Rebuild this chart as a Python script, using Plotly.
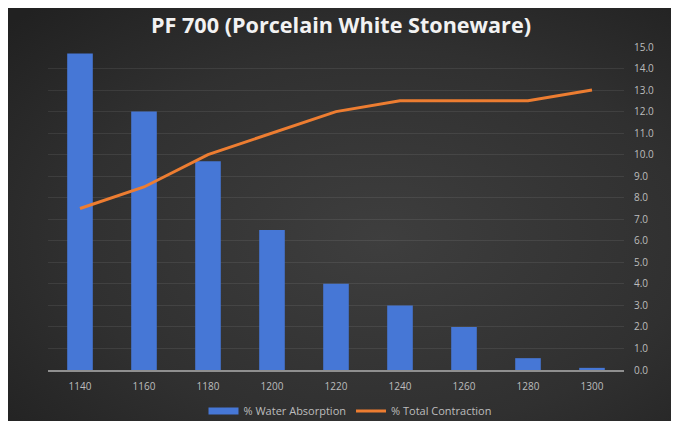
import base64
import plotly.graph_objects as go

temperatures = ["1140", "1160", "1180", "1200", "1220", "1240", "1260", "1280", "1300"]
water_absorption = [14.7, 12.0, 9.7, 6.5, 4.0, 3.0, 2.0, 0.55, 0.1]
total_contraction = [7.5, 8.5, 10.0, 11.0, 12.0, 12.5, 12.5, 12.5, 13.0]
y_ticks = [i for i in range(0, 16)]
y_tick_labels = [f"{v:.1f}" for v in y_ticks]

BLUE = "#4677d6"
ORANGE = "#ED7D31"
TXT = "#bdbdbd"
FONT = "Open Sans, Lato, sans-serif"

W, H = 679, 421
svg = (
    f"<svg xmlns='http://www.w3.org/2000/svg' width='{W}' height='{H}' viewBox='0 0 {W} {H}' preserveAspectRatio='none'>"
    "<defs><radialGradient id='g' cx='0.55' cy='0.55' r='0.75'>"
    "<stop offset='0' stop-color='#3e3e3e'/><stop offset='0.6' stop-color='#303030'/><stop offset='1' stop-color='#212121'/>"
    f"</radialGradient></defs><rect width='{W}' height='{H}' fill='url(#g)'/></svg>"
)
bg_src = "data:image/svg+xml;base64," + base64.b64encode(svg.encode()).decode()

L, R, T, B = 40, 63, 39, 59
pw, ph = W - L - R, H - T - B

fig = go.Figure()
fig.add_trace(go.Bar(
    x=temperatures, y=water_absorption, name="% Water Absorption",
    marker=dict(color=BLUE, line=dict(width=0)), showlegend=False,
))
fig.add_trace(go.Scatter(
    x=temperatures, y=total_contraction, name="% Total Contraction",
    mode="lines", line=dict(color=ORANGE, width=3), showlegend=False,
))
# legend entries
fig.add_trace(go.Scatter(x=[None], y=[None], mode="lines", name="% Water Absorption",
                         line=dict(color=BLUE, width=7)))
fig.add_trace(go.Scatter(x=[None], y=[None], mode="lines", name="% Total Contraction",
                         line=dict(color=ORANGE, width=3)))

fig.update_layout(
    width=W, height=H,
    margin=dict(l=L, r=R, t=T, b=B, pad=0, autoexpand=False),
    paper_bgcolor="#2b2b2b",
    plot_bgcolor="rgba(0,0,0,0)",
    bargap=0.6,
    font=dict(family=FONT, color=TXT, size=10),
    title=dict(
        text="<b>PF 700 (Porcelain White Stoneware)</b>",
        x=333 / W, xref="container", xanchor="center",
        y=1 - 17 / H, yref="container", yanchor="middle",
        font=dict(family=FONT, size=21.6, color="#f2f2f2"),
    ),
    legend=dict(
        orientation="h", x=(342 - L) / pw, xanchor="center",
        y=(H - B - 403) / ph, yanchor="middle",
        font=dict(family=FONT, size=11, color=TXT), bgcolor="rgba(0,0,0,0)",
        itemwidth=30, traceorder="normal",
    ),
    images=[dict(
        source=bg_src, xref="paper", yref="paper",
        x=-L / pw, y=(H - B) / ph,
        sizex=W / pw, sizey=H / ph,
        sizing="stretch", xanchor="left", yanchor="top", layer="below",
    )],
    xaxis=dict(
        type="category", showgrid=False, showline=True, linecolor="#8f8f8f", linewidth=1.5,
        ticks="", ticklabelstandoff=6, tickfont=dict(family=FONT, size=10, color=TXT), fixedrange=True,
    ),
    yaxis=dict(
        side="right", range=[0, 15], tickvals=y_ticks, ticktext=y_tick_labels,
        showgrid=True, gridcolor="rgba(255,255,255,0.08)", gridwidth=1,
        zeroline=False, showline=False, ticks="", ticklabelstandoff=9,
        tickfont=dict(family=FONT, size=10, color=TXT), fixedrange=True,
    ),
)

fig.write_html("out.html")
